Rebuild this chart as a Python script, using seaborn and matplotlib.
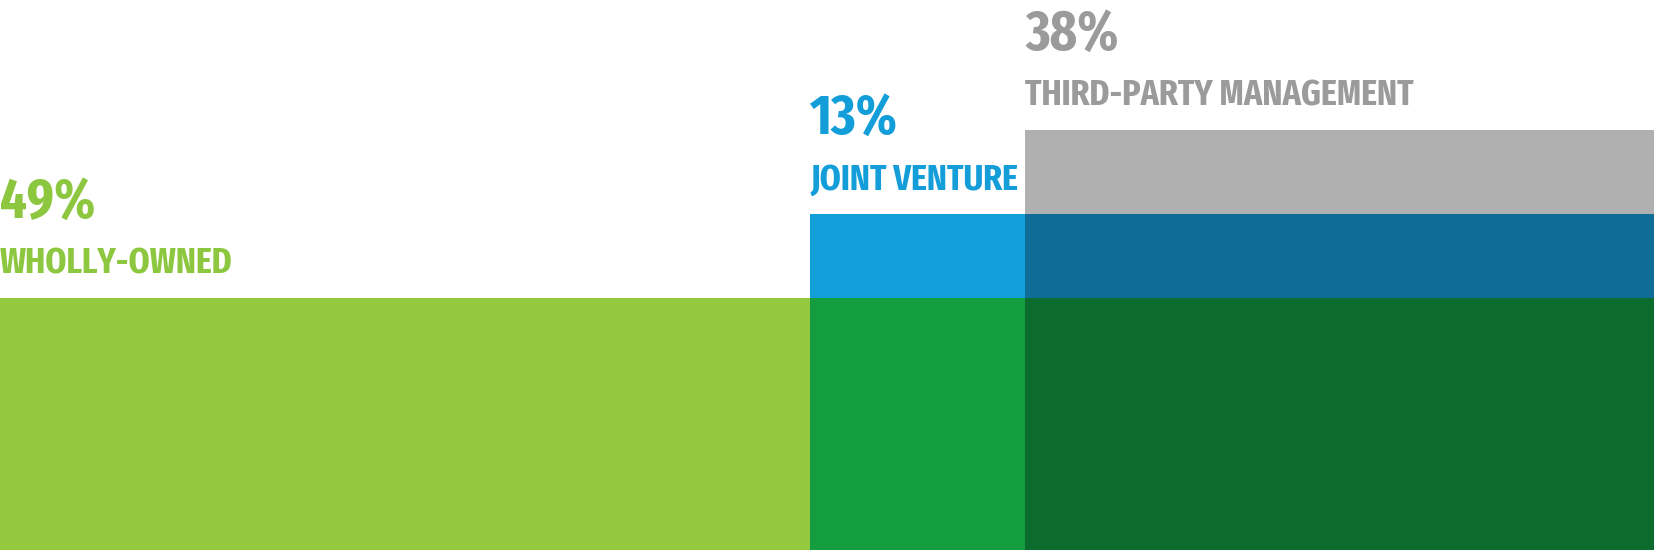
import matplotlib

matplotlib.use("Agg")
import matplotlib.pyplot as plt
import numpy as np
import seaborn as sns
from matplotlib import font_manager

# ownership split, left to right
categories = ["WHOLLY-OWNED", "JOINT VENTURE", "THIRD-PARTY MANAGEMENT"]
shares = [49, 13, 38]
step_levels = [3, 4, 5]  # top of each step, in band units
text_colors = ["#8DC63F", "#139ED9", "#9B9B9B"]
# fill of each band inside each column (bottom band first)
band_colors = [
    ["#93C83F"],
    ["#139D3F", "#139ED9"],
    ["#0B6C2D", "#0E6C97", "#B0B0B0"],
]


def pick_font() -> font_manager.FontProperties:
    """Prefer a condensed bold face if one is installed."""
    files = [f.fname for f in font_manager.fontManager.ttflist]
    for keys in (("extracondensed", "bold"), ("condensed", "bold"),
                 ("narrow", "bold"), ("semicondensed", "bold")):
        for fname in sorted(files):
            low = fname.lower().replace("-", "").replace("_", "")
            if all(k in low for k in keys) and "italic" not in low and "oblique" not in low:
                return font_manager.FontProperties(fname=fname)
    return font_manager.FontProperties(family="DejaVu Sans", weight="bold")


def fit_size(fig, text, prop, width_px, cap_px) -> float:
    renderer = fig.canvas.get_renderer()
    probe = fig.text(0, 0, text, fontproperties=prop, fontsize=20)
    w = probe.get_window_extent(renderer).width
    probe.set_text("H")
    h = probe.get_window_extent(renderer).height * 0.72
    probe.remove()
    return min(20 * width_px / w, 20 * cap_px / h)


def main() -> None:
    sns.set_style("white")
    plt.rcParams["font.family"] = ["DejaVu Sans"]
    prop = pick_font()

    fig = plt.figure(figsize=(16.54, 5.5), dpi=100)
    ax = fig.add_axes([0, 0, 1, 1])

    label_size = fit_size(fig, categories[2], prop, 389, 30)
    pct_size = fit_size(fig, "38%", prop, 93, 47)

    lefts = np.concatenate([[0], np.cumsum(shares)[:-1]])
    for i, (left, width) in enumerate(zip(lefts, shares)):
        bottom = 0
        for k, color in enumerate(band_colors[i]):
            top = step_levels[k]
            ax.bar(left, top - bottom, width=width, bottom=bottom, align="edge",
                   color=color, linewidth=0)
            bottom = top

        top = step_levels[i]
        ax.text(left, top + 0.29, categories[i], color=text_colors[i],
                fontproperties=prop, fontsize=label_size, ha="left", va="baseline")
        ax.text(left, top + 0.95, f"{shares[i]}%", color=text_colors[i],
                fontproperties=prop, fontsize=pct_size, ha="left", va="baseline")

    ax.set_xlim(0, sum(shares))
    ax.set_ylim(0, 550 / 84)
    ax.axis("off")
    fig.savefig("out.png", dpi=100)
    plt.close(fig)


if __name__ == "__main__":
    main()
